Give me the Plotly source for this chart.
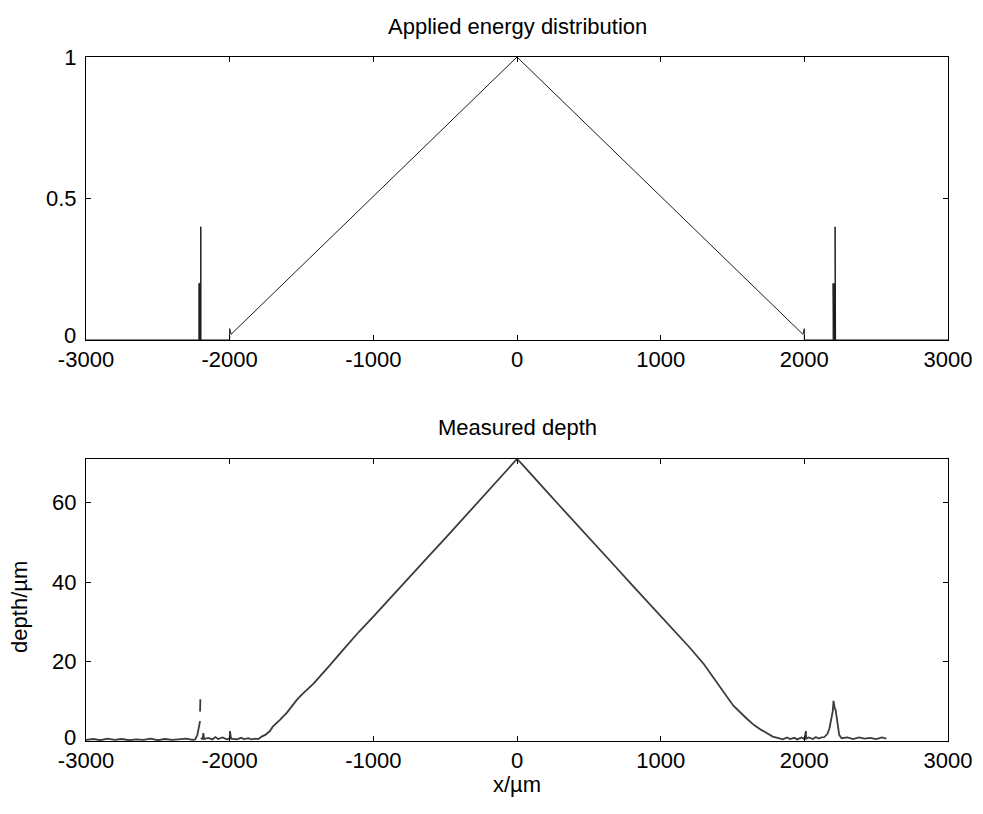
import plotly.graph_objects as go
from plotly.subplots import make_subplots

# ---- Applied energy distribution (vertex points) ----
energy_x = [-3000, -2214, -2214, -2211, -2211, -2208, -2208, -2205, -2205, -2202, -2202,
            -2200, -2200, -2000, -2000, -1990, 0, 1990, 2000, 2000, 2200, 2200,
            2205, 2205, 2208, 2208, 2211, 2211, 2214, 2214, 2218, 2218, 3000]
energy_y = [0, 0, 0.2, 0.2, 0, 0, 0.2, 0.2, 0, 0, 0.4,
            0.4, 0, 0, 0.04, 0.02, 1.0, 0.02, 0.04, 0, 0, 0.2,
            0.2, 0, 0, 0.2, 0.2, 0, 0, 0.4, 0.4, 0, 0]

# ---- Measured depth ----
depth_x = [-3000, -2950, -2900, -2850, -2800, -2750, -2700, -2650, -2600, -2550, -2500,
           -2450, -2400, -2350, -2300, -2260, -2240, -2225, -2215, -2206, None,
           -2206, -2204, None,
           -2200, -2190, -2183, -2178, -2150, -2120, -2100, -2080, -2050, -2020, -2000,
           -1998, -1990, -1950, -1920, -1900, -1870, -1850, -1820, -1800, -1777,
           -1750, -1720, -1700, -1650, -1600, -1534, -1500, -1418, -1400, -1302, -1200,
           -1100, -1000, -900, -800, -700, -600, -500, -400, -300, -200, -100, -30, 0,
           30, 100, 200, 300, 400, 500, 600, 700, 800, 900, 1000, 1100, 1200, 1300,
           1413, 1506, 1600, 1650, 1700, 1738, 1780, 1820, 1850, 1880, 1900, 1930,
           1950, 1980, 2000, 2011, 2013, 2030, 2060, 2080, 2100, 2120, 2140, 2161,
           2175, 2184, 2192, 2198, 2203, 2207, 2212, 2218, 2226, 2233, 2243, 2260,
           2300, 2340, 2380, 2420, 2460, 2500, 2540, 2571]
depth_y = [0.3, 0.5, 0.2, 0.6, 0.3, 0.5, 0.2, 0.4, 0.3, 0.6, 0.2,
           0.5, 0.3, 0.4, 0.6, 0.3, 0.4, 1.5, 3.0, 5.0, None,
           7.4, 10.5, None,
           0.8, 0.4, 2.0, 0.5, 0.8, 0.4, 1.0, 0.5, 0.9, 0.4, 0.6,
           2.5, 0.6, 0.4, 0.8, 0.5, 0.7, 0.4, 0.6, 0.5, 1.1,
           1.6, 2.5, 3.6, 5.3, 7.2, 10.3, 11.6, 14.4, 15.1, 19.1, 23.4,
           27.5, 31.3, 35.3, 39.2, 43.2, 47.1, 51.0, 55.0, 59.0, 63.0, 67.0, 69.8, 71.0,
           69.9, 67.2, 63.1, 59.1, 55.2, 51.2, 47.2, 43.3, 39.3, 35.4, 31.4, 27.5, 23.6, 19.4,
           13.8, 8.9, 5.6, 4.0, 2.8, 1.9, 1.1, 0.7, 0.4, 0.9, 0.5, 0.8,
           0.4, 0.9, 0.5, 2.5, 0.6, 0.9, 0.5, 1.0, 0.6, 0.9, 1.0, 1.8,
           3.2, 4.9, 6.0, 7.5, 10.1, 9.0, 8.2, 7.8, 5.5, 3.0, 1.5, 0.7,
           0.9, 0.5, 0.9, 0.6, 0.8, 0.5, 0.9, 0.6]

x_ticks = [-3000, -2000, -1000, 0, 1000, 2000, 3000]
x_ticklabels = ["-3000", "-2000", "-1000", "0", "1000", "2000", "3000"]
top_yticks = [0, 0.5, 1]
top_yticklabels = ["", "0.5", "1"]      # "0" drawn separately, raised as in the original
bot_yticks = [0, 20, 40, 60]
bot_yticklabels = ["", "20", "40", "60"]

FONT = "Liberation Sans, Arial, sans-serif"
TICK_SIZE = 22
TEXT_SIZE = 22

fig = make_subplots(rows=2, cols=1, vertical_spacing=0.174)
fig.update_layout(
    width=983, height=814,
    margin=dict(l=86, r=35, t=57, b=73),
    paper_bgcolor="white", plot_bgcolor="white",
    showlegend=False,
    font=dict(family=FONT, size=TICK_SIZE, color="black"),
)
fig.update_yaxes(domain=[0.5863, 1.0], row=1, col=1)
fig.update_yaxes(domain=[0.0, 0.4123], row=2, col=1)

fig.add_trace(go.Scatter(x=energy_x, y=energy_y, mode="lines",
                         line=dict(color="#1a1a1a", width=1)), row=1, col=1)
fig.add_trace(go.Scatter(x=depth_x, y=depth_y, mode="lines", connectgaps=False,
                         line=dict(color="#3c3c3c", width=1.8)), row=2, col=1)

axis_common = dict(showgrid=False, zeroline=False, showline=True, linecolor="black",
                   linewidth=1, mirror="allticks", ticks="inside", ticklen=5,
                   tickcolor="black", tickwidth=1,
                   tickfont=dict(family=FONT, size=TICK_SIZE, color="black"))

for r in (1, 2):
    fig.update_xaxes(range=[-3000, 3000], tickmode="array", tickvals=x_ticks,
                     ticktext=x_ticklabels, ticklabelstandoff=0, row=r, col=1,
                     **axis_common)
fig.update_yaxes(range=[0, 1], tickmode="array", tickvals=top_yticks,
                 ticktext=top_yticklabels, ticklabelstandoff=4, row=1, col=1,
                 **axis_common)
fig.update_yaxes(range=[0, 71], tickmode="array", tickvals=bot_yticks,
                 ticktext=bot_yticklabels, ticklabelstandoff=4, row=2, col=1,
                 **axis_common)

# raised zero labels (MATLAB keeps them inside the axes height)
zero_lbl = dict(xref="paper", showarrow=False, xanchor="right", yanchor="middle",
                font=dict(family=FONT, size=TICK_SIZE, color="black"))
fig.add_annotation(x=-0.0095, y=0, yref="y domain", text="0", yshift=4, **zero_lbl)
fig.add_annotation(x=-0.0095, y=0, yref="y2 domain", text="0", yshift=4, **zero_lbl)

ann = dict(xref="paper", yref="paper", showarrow=False,
           font=dict(family=FONT, size=TEXT_SIZE, color="black"))
fig.add_annotation(x=0.5, y=1.0439, text="Applied energy distribution",
                   xanchor="center", yanchor="middle", **ann)
fig.add_annotation(x=0.5, y=0.459, text="Measured depth",
                   xanchor="center", yanchor="middle", **ann)
fig.add_annotation(x=0.5, y=-0.0635, text="x/µm",
                   xanchor="center", yanchor="middle", **ann)
fig.add_annotation(x=-0.0766, y=0.196, text="depth/µm", textangle=-90,
                   xanchor="center", yanchor="middle", **ann)

fig.write_html("out.html")
